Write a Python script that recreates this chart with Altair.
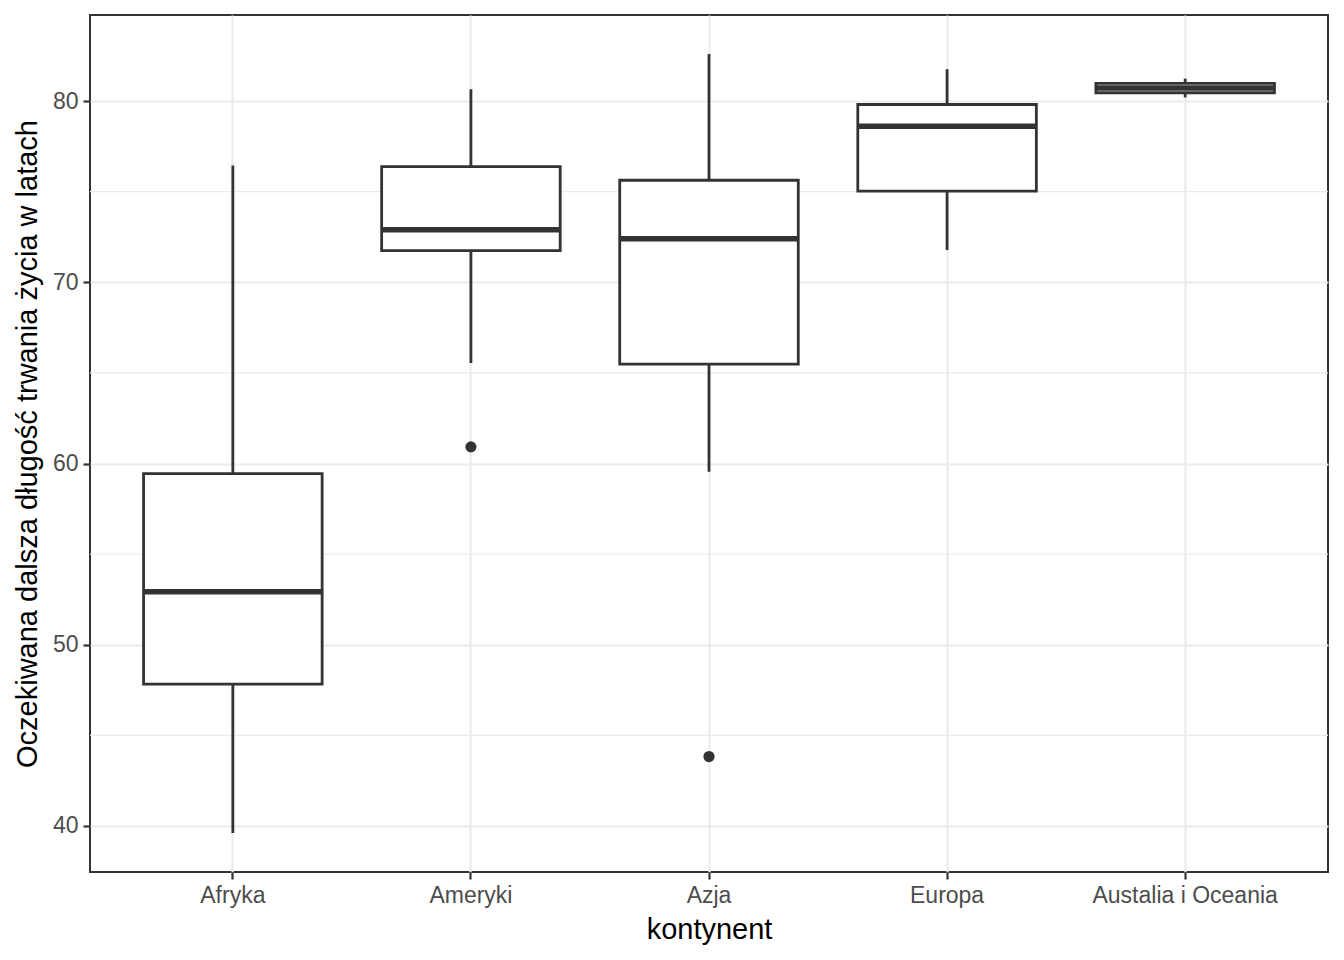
import altair as alt
import pandas as pd

continents = ["Afryka", "Ameryki", "Azja", "Europa", "Austalia i Oceania"]
lower_whisker = [39.61, 65.55, 59.55, 71.78, 80.20]
q1 = [47.83, 71.75, 65.48, 75.03, 80.46]
median = [52.93, 72.90, 72.40, 78.61, 80.72]
q3 = [59.44, 76.38, 75.63, 79.81, 80.98]
upper_whisker = [76.44, 80.65, 82.60, 81.76, 81.24]
outlier_continent = ["Ameryki", "Azja"]
outlier_value = [60.92, 43.83]
major_ticks = [40, 50, 60, 70, 80]
minor_ticks = [45, 55, 65, 75]

stats = pd.DataFrame({
    "kontynent": continents, "lw": lower_whisker, "q1": q1,
    "med": median, "q3": q3, "uw": upper_whisker,
})
outliers = pd.DataFrame({"kontynent": outlier_continent, "v": outlier_value})
minor = pd.DataFrame({"v": minor_ticks})

W, H = 1238, 857
FONT = "Liberation Sans"
step = W / 5.2

xscale = alt.Scale(domain=continents, paddingInner=0, paddingOuter=0.1)
yscale = alt.Scale(domain=[37.46, 84.75], nice=False, zero=False)

x_enc = alt.X("kontynent:N", scale=xscale, sort=continents,
              axis=alt.Axis(title="kontynent", labelAngle=0, grid=True, labelLimit=0,
                            gridColor="#EBEBEB", gridWidth=2.2,
                            tickColor="#333333", tickSize=7, tickWidth=2.2,
                            labelPadding=5, titlePadding=8))
y_axis = alt.Axis(title="Oczekiwana dalsza długość trwania życia w latach",
                  values=major_ticks, grid=True, gridColor="#EBEBEB", gridWidth=2.2,
                  tickColor="#333333", tickSize=7, tickWidth=2.2,
                  labelPadding=5, titlePadding=10)

minor_grid = alt.Chart(minor).mark_rule(color="#EBEBEB", strokeWidth=1.2).encode(
    y=alt.Y("v:Q", scale=yscale, axis=y_axis)
)

base = alt.Chart(stats)

whisk = base.mark_rule(color="#333333", strokeWidth=2.8).encode(
    x=x_enc,
    y=alt.Y("lw:Q", scale=yscale, axis=y_axis),
    y2="uw:Q",
)
box = base.mark_bar(fill="white", stroke="#333333", strokeWidth=2.8,
                    width=alt.RelativeBandSize(0.75)).encode(
    x=x_enc,
    y=alt.Y("q1:Q", scale=yscale, axis=y_axis),
    y2="q3:Q",
)
med = base.mark_tick(color="#333333", thickness=5.5, size=step * 0.75, opacity=1).encode(
    x=x_enc,
    y=alt.Y("med:Q", scale=yscale, axis=y_axis),
)
pts = alt.Chart(outliers).mark_circle(color="#333333", size=125, opacity=1).encode(
    x=x_enc,
    y=alt.Y("v:Q", scale=yscale, axis=y_axis),
)

chart = alt.layer(minor_grid, whisk, box, med, pts).properties(
    width=W, height=H,
    autosize=alt.AutoSizeParams(type="none"),
    padding={"left": 82, "top": 7, "right": 8, "bottom": 80},
).configure_view(
    stroke="#333333", strokeWidth=2, fill="white"
).configure_axis(
    domain=False,
    labelFont=FONT, labelFontSize=23, labelColor="#4D4D4D",
    titleFont=FONT, titleFontSize=29, titleColor="#000000", titleFontWeight="normal",
)

chart.save("out.html", embed_options={"renderer": "svg", "actions": False})
